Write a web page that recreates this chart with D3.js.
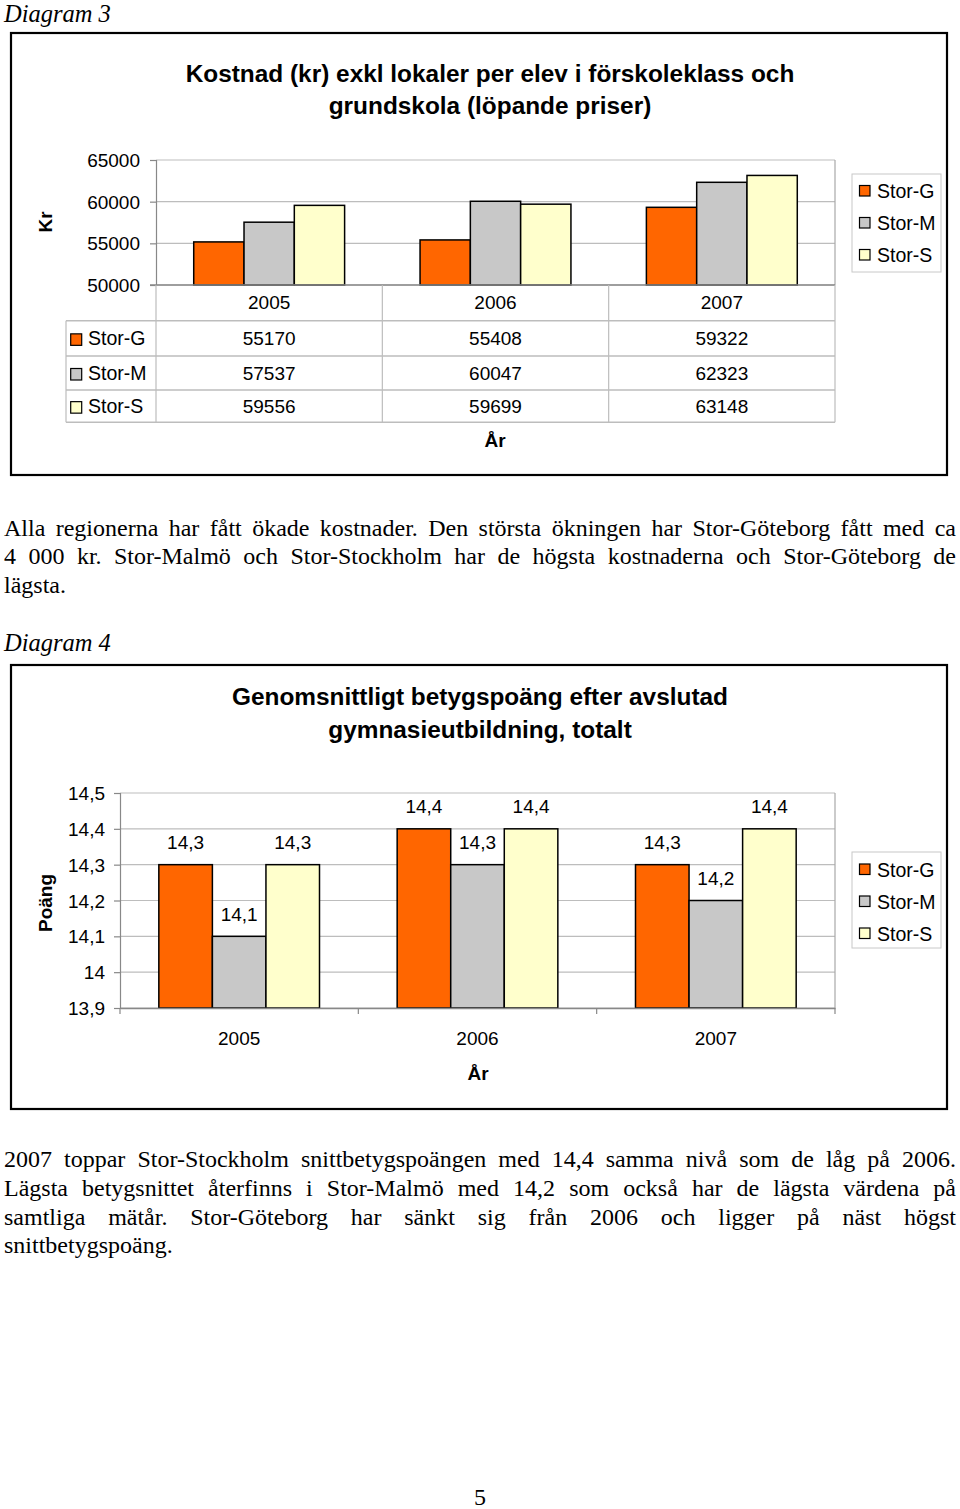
<!DOCTYPE html>
<html>
<head>
<meta charset="utf-8">
<script src="https://cdn.jsdelivr.net/npm/d3@7"></script>
<style>
  html, body { margin: 0; padding: 0; background: #fff; }
  svg { display: block; }
</style>
</head>
<body>
<svg id="page" width="960" height="1509"></svg>
<script>
// ---------------- DATA ----------------
const series = ["Stor-G", "Stor-M", "Stor-S"];
const seriesColors = ["#FF6600", "#C8C8C8", "#FFFFCC"];

// Diagram 3
const years1 = ["2005", "2006", "2007"];
const storG1 = [55170, 55408, 59322];
const storM1 = [57537, 60047, 62323];
const storS1 = [59556, 59699, 63148];
const ticks1 = [50000, 55000, 60000, 65000];
const title1 = ["Kostnad (kr) exkl lokaler per elev i förskoleklass och", "grundskola (löpande priser)"];

// Diagram 4
const years2 = ["2005", "2006", "2007"];
const storG2 = [14.3, 14.4, 14.3];
const storM2 = [14.1, 14.3, 14.2];
const storS2 = [14.3, 14.4, 14.4];
const ticks2 = [13.9, 14.0, 14.1, 14.2, 14.3, 14.4, 14.5];
const tickLabels2 = ["13,9", "14", "14,1", "14,2", "14,3", "14,4", "14,5"];
const title2 = ["Genomsnittligt betygspoäng efter avslutad", "gymnasieutbildning, totalt"];

const para1 = [
  "Alla regionerna har fått ökade kostnader. Den största ökningen har Stor-Göteborg fått med ca",
  "4 000 kr. Stor-Malmö och Stor-Stockholm har de högsta kostnaderna och Stor-Göteborg de",
  "lägsta."
];
const para2 = [
  "2007 toppar Stor-Stockholm snittbetygspoängen med 14,4 samma nivå som de låg på 2006.",
  "Lägsta betygsnittet återfinns i Stor-Malmö med 14,2 som också har de lägsta värdena på",
  "samtliga mätår. Stor-Göteborg har sänkt sig från 2006 och ligger på näst högst",
  "snittbetygspoäng."
];

// ---------------- HELPERS ----------------
const svg = d3.select("#page");
const SANS = "'Liberation Sans', Arial, sans-serif";
const SERIF = "'Liberation Serif', 'Times New Roman', serif";

function justifiedLines(lines, x0, x1, y0, lh, size) {
  const g = svg.append("g").attr("font-family", SERIF).attr("font-size", size).attr("fill", "#000");
  lines.forEach((line, i) => {
    const y = y0 + i * lh;
    const last = i === lines.length - 1;
    if (last) {
      g.append("text").attr("x", x0).attr("y", y).text(line);
      return;
    }
    const words = line.split(" ");
    const nodes = words.map(w => g.append("text").attr("y", y).text(w));
    const widths = nodes.map(n => n.node().getComputedTextLength());
    const total = d3.sum(widths);
    const gap = (x1 - x0 - total) / (words.length - 1);
    let x = x0;
    nodes.forEach((n, j) => { n.attr("x", x); x += widths[j] + gap; });
  });
}

function frame(x0, y0, x1, y1) {
  svg.append("rect").attr("x", x0).attr("y", y0).attr("width", x1 - x0).attr("height", y1 - y0)
    .attr("fill", "#fff").attr("stroke", "#000").attr("stroke-width", 2.2);
}

function legend(x0, y0, y1, centers) {
  const g = svg.append("g").attr("font-family", SANS).attr("font-size", 19.5);
  g.append("rect").attr("x", x0).attr("y", y0).attr("width", 89).attr("height", y1 - y0)
    .attr("fill", "#fff").attr("stroke", "#c8c8c8").attr("stroke-width", 1);
  series.forEach((s, i) => {
    g.append("rect").attr("x", x0 + 7.5).attr("y", centers[i] - 5.5).attr("width", 10.5).attr("height", 10.5)
      .attr("fill", seriesColors[i]).attr("stroke", "#000").attr("stroke-width", 1.2);
    g.append("text").attr("x", x0 + 25).attr("y", centers[i] + 7).text(s);
  });
}

// ---------------- HEADINGS / TEXT ----------------
svg.append("text").attr("x", 4).attr("y", 22).attr("font-family", SERIF).attr("font-style", "italic")
  .attr("font-size", 24.5).text("Diagram 3");

frame(11, 33, 947, 475);

// ---------------- DIAGRAM 3 ----------------
(function () {
  const left = 156, right = 835, top = 160, bottom = 285;
  const x = d3.scaleBand().domain(years1).range([left, right]).paddingInner(0).paddingOuter(0);
  const xs = d3.scaleBand().domain(series).range([0, x.bandwidth()]).paddingInner(0).paddingOuter(0.75);
  const y = d3.scaleLinear().domain([50000, 65000]).range([bottom, top]);
  const vals = [storG1, storM1, storS1];

  const g = svg.append("g").attr("font-family", SANS);

  title1.forEach((t, i) => g.append("text").attr("x", 490).attr("y", 82 + i * 32)
    .attr("text-anchor", "middle").attr("font-weight", "bold").attr("font-size", 24.4).text(t));

  g.selectAll(".grid").data(ticks1).join("line")
    .attr("x1", left).attr("x2", right).attr("y1", d => y(d)).attr("y2", d => y(d))
    .attr("stroke", "#bdbdbd").attr("stroke-width", 1.2);
  g.append("line").attr("x1", right).attr("x2", right).attr("y1", top).attr("y2", bottom)
    .attr("stroke", "#a8a8a8").attr("stroke-width", 1.2);

  const ay = g.append("g").attr("transform", `translate(${left},0)`)
    .call(d3.axisLeft(y).tickValues(ticks1).tickSize(6).tickPadding(10).tickFormat(d3.format("d")));
  ay.select(".domain").attr("stroke", "#888").attr("stroke-width", 1.2);
  ay.selectAll(".tick line").attr("stroke", "#888").attr("stroke-width", 1.2);
  ay.selectAll(".tick text").attr("font-family", SANS).attr("font-size", 19).attr("fill", "#000").attr("dy", "0.35em");
  ay.attr("font-family", null).attr("font-size", null);

  years1.forEach((yr, i) => {
    series.forEach((s, j) => {
      g.append("rect").attr("x", x(yr) + xs(s)).attr("width", xs.bandwidth())
        .attr("y", y(vals[j][i])).attr("height", y(50000) - y(vals[j][i]))
        .attr("fill", seriesColors[j]).attr("stroke", "#000").attr("stroke-width", 1.5);
    });
  });

  g.append("line").attr("x1", left - 6).attr("x2", right).attr("y1", bottom).attr("y2", bottom)
    .attr("stroke", "#888").attr("stroke-width", 1.4);

  const rowY = [285, 320.7, 356, 390, 422.3];
  const tableLeft = 66;
  const edges = years1.map(d => x(d)).concat([right]);
  edges.forEach(e => g.append("line").attr("x1", e).attr("x2", e).attr("y1", rowY[0]).attr("y2", rowY[4])
    .attr("stroke", "#bdbdbd").attr("stroke-width", 1.2));
  g.append("line").attr("x1", tableLeft).attr("x2", tableLeft).attr("y1", rowY[1]).attr("y2", rowY[4])
    .attr("stroke", "#bdbdbd").attr("stroke-width", 1.2);
  rowY.slice(1).forEach(ry => g.append("line").attr("x1", tableLeft).attr("x2", right).attr("y1", ry).attr("y2", ry)
    .attr("stroke", "#bdbdbd").attr("stroke-width", 1.4));

  years1.forEach(yr => g.append("text").attr("x", x(yr) + x.bandwidth() / 2).attr("y", 308.5)
    .attr("text-anchor", "middle").attr("font-size", 19).text(yr));
  series.forEach((s, j) => {
    const cy = (rowY[j + 1] + rowY[j + 2]) / 2;
    g.append("rect").attr("x", 70.7).attr("y", cy - 4.5).attr("width", 11).attr("height", 11.5)
      .attr("fill", seriesColors[j]).attr("stroke", "#000").attr("stroke-width", 1.2);
    g.append("text").attr("x", 88).attr("y", cy + 7).attr("font-size", 19.5).text(s);
    years1.forEach((yr, i) => g.append("text").attr("x", x(yr) + x.bandwidth() / 2).attr("y", cy + 7)
      .attr("text-anchor", "middle").attr("font-size", 19).text(vals[j][i]));
  });

  g.append("text").attr("transform", "translate(52,222) rotate(-90)").attr("text-anchor", "middle")
    .attr("font-weight", "bold").attr("font-size", 19).text("Kr");
  g.append("text").attr("x", 495).attr("y", 447).attr("text-anchor", "middle")
    .attr("font-weight", "bold").attr("font-size", 19).text("År");

  legend(852, 174, 272, [191, 223, 255]);
})();

justifiedLines(para1, 4, 956, 535.5, 28.8, 24);

svg.append("text").attr("x", 4).attr("y", 651).attr("font-family", SERIF).attr("font-style", "italic")
  .attr("font-size", 24.5).text("Diagram 4");

frame(11, 665, 947, 1109);

// ---------------- DIAGRAM 4 ----------------
(function () {
  const left = 120, right = 835, top = 793, bottom = 1008;
  const x = d3.scaleBand().domain(years2).range([left, right]).paddingInner(0).paddingOuter(0);
  const xs = d3.scaleBand().domain(series).range([0, x.bandwidth()]).paddingInner(0).paddingOuter(0.725);
  const y = d3.scaleLinear().domain([13.9, 14.5]).range([bottom, top]);
  const vals = [storG2, storM2, storS2];
  const fmt = v => tickLabels2[ticks2.findIndex(t => Math.abs(t - v) < 1e-9)];

  const g = svg.append("g").attr("font-family", SANS);

  title2.forEach((t, i) => g.append("text").attr("x", 480).attr("y", 705 + i * 32.5)
    .attr("text-anchor", "middle").attr("font-weight", "bold").attr("font-size", 24.4).text(t));

  g.selectAll(".grid").data(ticks2).join("line")
    .attr("x1", left).attr("x2", right).attr("y1", d => y(d)).attr("y2", d => y(d))
    .attr("stroke", "#bdbdbd").attr("stroke-width", 1.2);
  g.append("line").attr("x1", right).attr("x2", right).attr("y1", top).attr("y2", bottom)
    .attr("stroke", "#a8a8a8").attr("stroke-width", 1.2);

  const ay = g.append("g").attr("transform", `translate(${left},0)`)
    .call(d3.axisLeft(y).tickValues(ticks2).tickSize(6).tickPadding(9).tickFormat(fmt));
  ay.select(".domain").attr("stroke", "#888").attr("stroke-width", 1.2);
  ay.selectAll(".tick line").attr("stroke", "#888").attr("stroke-width", 1.2);
  ay.selectAll(".tick text").attr("font-family", SANS).attr("font-size", 19).attr("fill", "#000").attr("dy", "0.35em");
  ay.attr("font-family", null).attr("font-size", null);

  years2.forEach((yr, i) => {
    series.forEach((s, j) => {
      const v = vals[j][i];
      g.append("rect").attr("x", x(yr) + xs(s)).attr("width", xs.bandwidth())
        .attr("y", y(v)).attr("height", y(13.9) - y(v))
        .attr("fill", seriesColors[j]).attr("stroke", "#000").attr("stroke-width", 1.5);
      g.append("text").attr("x", x(yr) + xs(s) + xs.bandwidth() / 2).attr("y", y(v) - 15.5)
        .attr("text-anchor", "middle").attr("font-size", 19).text(fmt(v));
    });
  });

  const ax = g.append("g").attr("transform", `translate(0,${bottom})`)
    .call(d3.axisBottom(x).tickSize(0).tickPadding(24));
  ax.select(".domain").attr("stroke", "#888").attr("stroke-width", 1.4);
  ax.selectAll(".tick text").attr("font-family", SANS).attr("font-size", 19).attr("fill", "#000");
  ax.attr("font-family", null).attr("font-size", null);
  const edges = years2.map(d => x(d)).concat([right]);
  edges.forEach(e => g.append("line").attr("x1", e).attr("x2", e).attr("y1", bottom).attr("y2", bottom + 6)
    .attr("stroke", "#888").attr("stroke-width", 1.2));

  g.append("text").attr("transform", "translate(52,903) rotate(-90)").attr("text-anchor", "middle")
    .attr("font-weight", "bold").attr("font-size", 19).text("Poäng");
  g.append("text").attr("x", 478).attr("y", 1080).attr("text-anchor", "middle")
    .attr("font-weight", "bold").attr("font-size", 19).text("År");

  legend(852, 852, 948, [869.5, 901.5, 933.5]);
})();

justifiedLines(para2, 4, 956, 1167, 28.8, 24);

svg.append("text").attr("x", 480).attr("y", 1505).attr("text-anchor", "middle")
  .attr("font-family", SERIF).attr("font-size", 24).text("5");
</script>
</body>
</html>
